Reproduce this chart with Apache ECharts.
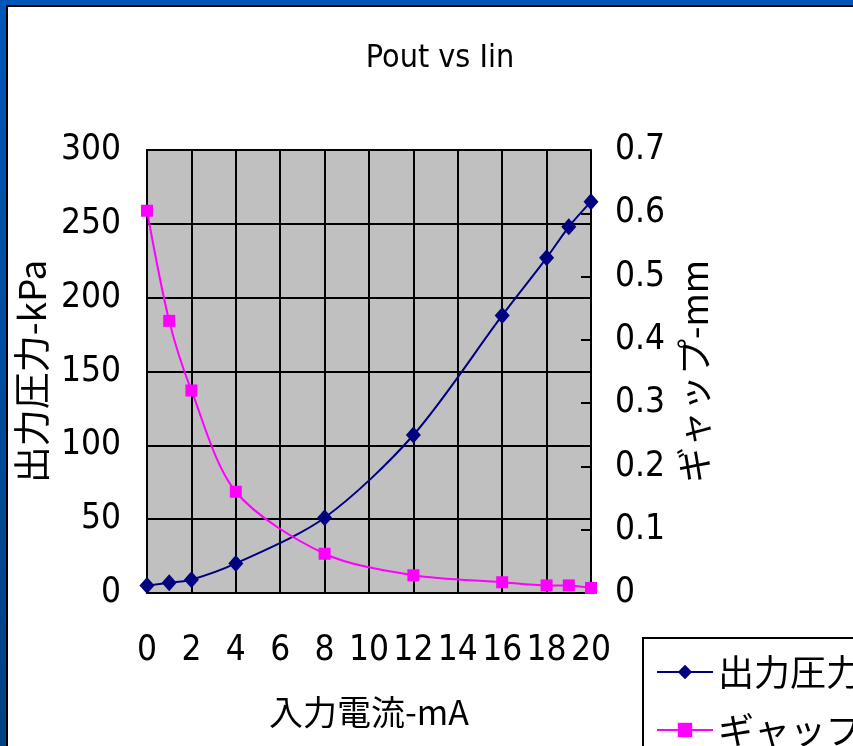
<!DOCTYPE html>
<html><head><meta charset="utf-8">
<script src="https://cdn.jsdelivr.net/npm/echarts@6/dist/echarts.min.js"></script>
<style>html,body{margin:0;padding:0;background:#fff;}#c{width:853px;height:746px;}</style>
</head><body><div id="c"></div>
<script>
const titleText = 'Pout vs Iin';
const xName = '入力電流-mA';
const yLeftName = '出力圧力-kPa';
const yRightName = 'ギャップ-mm';
const seriesNames = ['出力圧力', 'ギャップ'];
const currentIn = [0, 1, 2, 4, 8, 12, 16, 18, 19, 20];
const pressure = [5, 7, 9, 20, 51, 107, 188, 227, 248, 265];
const gap = [0.604, 0.43, 0.32, 0.16, 0.062, 0.028, 0.017, 0.012, 0.012, 0.008];

const numFont = '"DejaVu Sans Condensed", "Liberation Sans Narrow", sans-serif';
const jpFont = '"Noto Sans CJK JP", sans-serif';

const chart = echarts.init(document.getElementById('c'), null, {renderer: 'canvas'});
chart.setOption({
  backgroundColor: '#ffffff',
  animation: false,
  title: {
    text: titleText, left: 435, top: 38, textAlign: 'center',
    textStyle: {fontFamily: numFont, fontSize: 32, fontWeight: 'normal', color: '#000'}
  },
  grid: {left: 147, right: 262, top: 150, bottom: 153, show: true, backgroundColor: '#c0c0c0', borderColor: '#808080', borderWidth: 2},
  legend: {
    orient: 'vertical', left: 643, top: 638, height: 160, width: 300,
    data: seriesNames,
    backgroundColor: '#fff', borderColor: '#000', borderWidth: 2,
    padding: [14, 10, 15, 13], itemGap: 18, itemWidth: 56, itemHeight: 18,
    textStyle: {fontFamily: jpFont, fontSize: 36, color: '#000', lineHeight: 40}
  },
  xAxis: {
    type: 'value', min: 0, max: 20, interval: 2,
    name: xName, nameLocation: 'middle', nameGap: 102,
    nameTextStyle: {fontFamily: jpFont, fontSize: 34, color: '#000'},
    axisLine: {show: true, lineStyle: {color: '#000', width: 2}},
    axisTick: {show: false},
    axisLabel: {margin: 40, fontFamily: numFont, fontSize: 35, color: '#000'},
    splitLine: {show: true, lineStyle: {color: '#000', width: 2}}
  },
  yAxis: [{
    type: 'value', min: 0, max: 300, interval: 50,
    name: yLeftName, nameLocation: 'middle', nameGap: 88, nameRotate: 90,
    nameTextStyle: {fontFamily: jpFont, fontSize: 37, color: '#000'},
    axisLine: {show: true, lineStyle: {color: '#000', width: 2}},
    axisTick: {show: true, inside: true, length: 8, lineStyle: {color: '#000', width: 2}},
    axisLabel: {margin: 26, fontFamily: numFont, fontSize: 35, color: '#000'},
    splitLine: {show: true, lineStyle: {color: '#000', width: 2}}
  }, {
    type: 'value', min: 0, max: 0.7, interval: 0.1,
    name: yRightName, nameLocation: 'middle', nameGap: 56, nameRotate: 90,
    nameTextStyle: {fontFamily: jpFont, fontSize: 36, color: '#000'},
    axisLine: {show: true, lineStyle: {color: '#000', width: 2}},
    axisTick: {show: true, inside: true, length: 10, lineStyle: {color: '#000', width: 2}},
    axisLabel: {margin: 24, fontFamily: numFont, fontSize: 35, color: '#000'},
    splitLine: {show: false}
  }],
  series: [{
    name: seriesNames[0], type: 'line', yAxisIndex: 0, smooth: 0.3,
    data: currentIn.map((x, i) => [x, pressure[i]]),
    symbol: 'diamond', symbolSize: [15, 17],
    lineStyle: {color: '#000080', width: 2},
    itemStyle: {color: '#000080'}
  }, {
    name: seriesNames[1], type: 'line', yAxisIndex: 1, smooth: 0.3,
    data: currentIn.map((x, i) => [x, gap[i]]),
    symbol: 'rect', symbolSize: 12,
    lineStyle: {color: '#ff00ff', width: 2},
    itemStyle: {color: '#ff00ff'}
  }],
  graphic: [
    {type: 'rect', shape: {x: 0, y: 0, width: 853, height: 5}, style: {fill: '#0057b7'}, z: 100},
    {type: 'rect', shape: {x: 6, y: 5, width: 847, height: 2}, style: {fill: '#000'}, z: 100},
    {type: 'rect', shape: {x: 0, y: 0, width: 6, height: 746}, style: {fill: new echarts.graphic.LinearGradient(0, 0, 0, 1, [{offset: 0, color: '#0057b7'}, {offset: 1, color: '#004282'}])}, z: 100},
    {type: 'rect', shape: {x: 6, y: 5, width: 2, height: 741}, style: {fill: '#000'}, z: 100}
  ]
});
</script></body></html>
